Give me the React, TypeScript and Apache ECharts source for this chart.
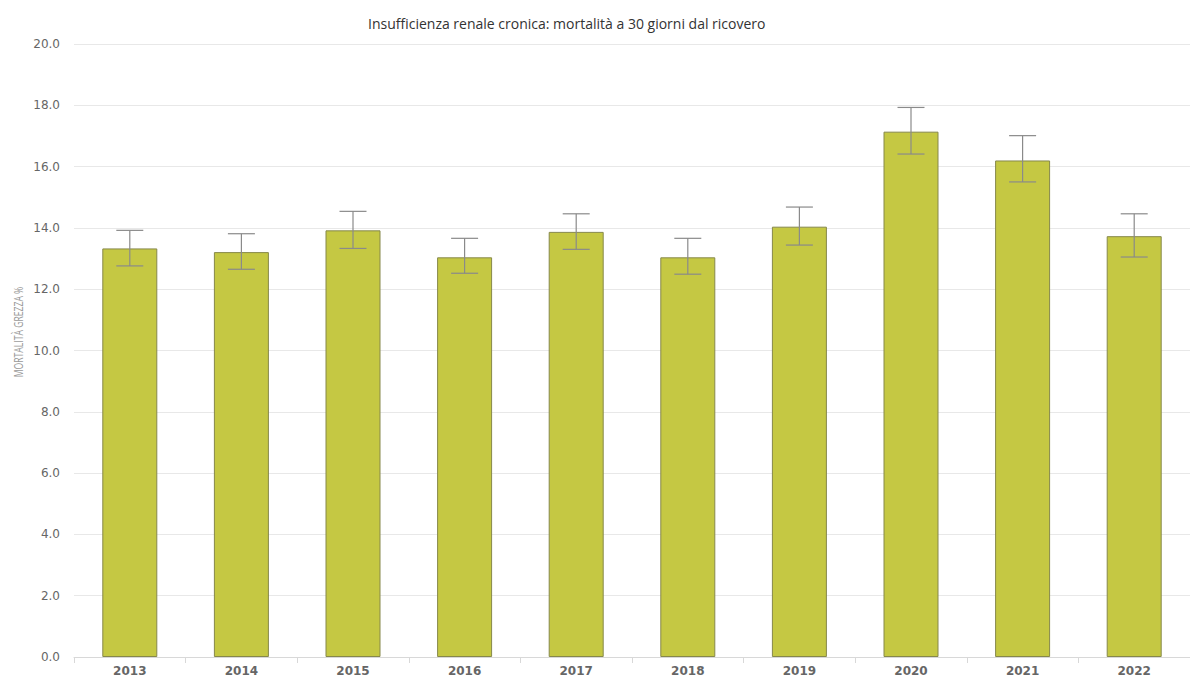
import React, { useEffect, useRef } from "react";
import * as echarts from "echarts";

const years = ["2013", "2014", "2015", "2016", "2017", "2018", "2019", "2020", "2021", "2022"];
const mortality = [13.33, 13.21, 13.92, 13.04, 13.87, 13.04, 14.04, 17.14, 16.2, 13.73];
const ciLower = [12.76, 12.65, 13.33, 12.52, 13.3, 12.49, 13.44, 16.41, 15.5, 13.05];
const ciUpper = [13.92, 13.81, 14.54, 13.66, 14.46, 13.66, 14.68, 17.93, 17.01, 14.46];
const yTicks = [0, 2, 4, 6, 8, 10, 12, 14, 16, 18, 20];
const yAxisTitle = "MORTALITÀ GREZZA %";

export default function App() {
  const ref = useRef<HTMLDivElement>(null);
  useEffect(() => {
    if (!ref.current) return;
    const chart = echarts.init(ref.current, undefined, { renderer: "svg" });
    const errData = years.map((_, i) => [i, ciLower[i], ciUpper[i]]);
    chart.setOption({
      animation: false,
      backgroundColor: "#ffffff",
      title: {
        text: "Insufficienza renale cronica: mortalità a 30 giorni dal ricovero",
        left: 363,
        top: 11,
        textStyle: { fontFamily: "Open Sans", fontSize: 14, fontWeight: "normal", color: "#333333" },
      },
      graphic: [
        {
          type: "text",
          x: 12,
          y: 332,
          rotation: Math.PI / 2,
          scaleX: 0.72,
          style: {
            text: yAxisTitle,
            fontFamily: "Open Sans, sans-serif",
            fontSize: 12,
            fill: "#999999",
            align: "center",
            verticalAlign: "top",
          },
        },
      ],
      grid: { left: 74, top: 44, width: 1124, height: 613 },
      xAxis: {
        type: "category",
        data: years,
        axisLine: { lineStyle: { color: "#d8d8d8" } },
        axisTick: { show: true, length: 6, lineStyle: { color: "#d8d8d8" } },
        axisLabel: { fontFamily: "DejaVu Sans", fontSize: 12, fontWeight: "bold", color: "#666666", margin: 8 },
      },
      yAxis: {
        type: "value",
        min: yTicks[0],
        max: yTicks[yTicks.length - 1],
        interval: 2,
        axisLine: { show: false },
        axisTick: { show: false },
        axisLabel: {
          fontFamily: "DejaVu Sans",
          fontSize: 12,
          color: "#666666",
          margin: 14,
          formatter: (v: number) => v.toFixed(1),
        },
        splitLine: { lineStyle: { color: "#e8e8e8" } },
      },
      series: [
        {
          type: "bar",
          data: mortality,
          barWidth: 55,
          itemStyle: { color: "#c5c843", borderColor: "#86884a", borderWidth: 1 },
        },
        {
          type: "custom",
          data: errData,
          z: 10,
          renderItem: (params: any, api: any) => {
            const x = api.value(0);
            const lo = api.coord([x, api.value(1)]);
            const hi = api.coord([x, api.value(2)]);
            const half = 13.5;
            const style = { stroke: "#8a8a8a", lineWidth: 1.2 };
            return {
              type: "group",
              children: [
                { type: "line", shape: { x1: hi[0], y1: hi[1], x2: lo[0], y2: lo[1] }, style },
                { type: "line", shape: { x1: hi[0] - half, y1: hi[1], x2: hi[0] + half, y2: hi[1] }, style },
                { type: "line", shape: { x1: lo[0] - half, y1: lo[1], x2: lo[0] + half, y2: lo[1] }, style },
              ],
            };
          },
        },
      ],
    });
    return () => chart.dispose();
  }, []);
  return (
    <div
      ref={ref}
      style={{ position: "fixed", left: 0, top: 0, width: 1190, height: 679 }}
    />
  );
}
